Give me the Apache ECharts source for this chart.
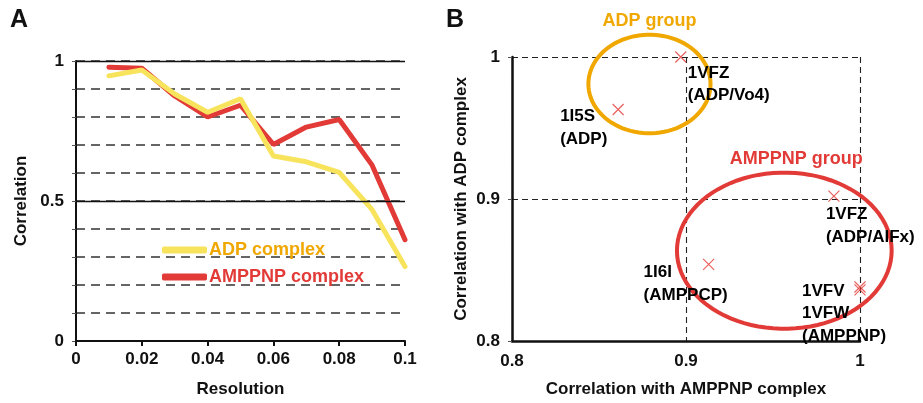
<!DOCTYPE html>
<html>
<head>
<meta charset="utf-8">
<script src="https://cdn.jsdelivr.net/npm/echarts@6/dist/echarts.min.js"></script>
<style>
html,body{margin:0;padding:0;background:#fff;}
#c{width:923px;height:403px;}
</style>
</head>
<body>
<div id="c"></div>
<script>
// ---- Panel A data ----
const resolution = [0.01, 0.02, 0.03, 0.04, 0.05, 0.06, 0.07, 0.08, 0.09, 0.1];
const adpComplex = [0.947, 0.968, 0.882, 0.817, 0.865, 0.661, 0.640, 0.602, 0.469, 0.266];
const amppnpComplex = [0.978, 0.974, 0.875, 0.800, 0.842, 0.702, 0.764, 0.791, 0.628, 0.362];
const seriesNames = ['ADP complex', 'AMPPNP complex'];

// ---- Panel B data ----
const structLabels = ['1VFZ\n(ADP/Vo4)', '1I5S\n(ADP)', '1VFZ\n(ADP/AlFx)', '1I6I\n(AMPPCP)', '1VFV\n1VFW\n(AMPPNP)', ''];
const corrWithAmppnp = [0.897, 0.861, 0.985, 0.913, 1.0, 1.0];
const corrWithAdp = [1.0, 0.963, 0.902, 0.854, 0.838, 0.836];

const groupNames = ['ADP group', 'AMPPNP group'];
const groupCenterX = [0.879, 0.9565];
const groupCenterY = [0.981, 0.8636];
const groupRadiusX = [0.0351, 0.0617];
const groupRadiusY = [0.0347, 0.0550];

const YELLOW = '#f8e35c';
const RED = '#e23b37';
const ORANGE = '#f0a800';
const FONT = '"Liberation Sans", Arial, Helvetica, sans-serif';

const fmt = v => parseFloat(v.toFixed(2)).toString();

const labelOffsets = [[15, 13], [-50, 4], [0, 15], [-57, 5], [-50, 1], [0, 0]];

const chart = echarts.init(document.getElementById('c'), null, {renderer: 'canvas'});

const option = {
  animation: false,
  backgroundColor: '#fff',
  textStyle: {fontFamily: FONT},
  grid: [
    {left: 76, right: 518, top: 61, bottom: 60},
    {left: 512, right: 63, top: 57, bottom: 58}
  ],
  xAxis: [
    {
      gridIndex: 0, type: 'value', min: 0, max: 0.1, interval: 0.02,
      axisLine: {show: true, onZero: false, lineStyle: {color: '#111', width: 2}},
      axisTick: {show: true, length: 5, lineStyle: {color: '#111', width: 2}},
      axisLabel: {formatter: fmt, color: '#111', fontSize: 17, fontWeight: 'bold', fontFamily: FONT, margin: 10},
      splitLine: {show: false},
      name: 'Resolution', nameLocation: 'middle', nameGap: 40,
      nameTextStyle: {color: '#111', fontSize: 17, fontWeight: 'bold', fontFamily: FONT}
    },
    {
      gridIndex: 1, type: 'value', min: 0.8, max: 1.0, interval: 0.1,
      axisLine: {show: true, onZero: false, lineStyle: {color: '#111', width: 2.5}},
      axisTick: {show: false},
      axisLabel: {formatter: fmt, color: '#111', fontSize: 17, fontWeight: 'bold', fontFamily: FONT, margin: 12},
      splitLine: {show: true, lineStyle: {color: '#222', type: [6, 4], width: 1.1}},
      name: 'Correlation with AMPPNP complex', nameLocation: 'middle', nameGap: 40,
      nameTextStyle: {color: '#111', fontSize: 17, fontWeight: 'bold', fontFamily: FONT}
    }
  ],
  yAxis: [
    {
      gridIndex: 0, type: 'value', min: 0, max: 1, interval: 0.1,
      axisLine: {show: true, onZero: false, lineStyle: {color: '#111', width: 2}},
      axisTick: {show: true, length: 4, lineStyle: {color: '#555', width: 1}},
      axisLabel: {
        formatter: v => (Math.abs(v) < 1e-9 || Math.abs(v - 0.5) < 1e-9 || Math.abs(v - 1) < 1e-9) ? fmt(v) : '',
        color: '#111', fontSize: 17, fontWeight: 'bold', fontFamily: FONT, margin: 12
      },
      splitLine: {show: true, lineStyle: {color: '#333', type: [9, 6], width: 1.5}},
      name: 'Correlation', nameLocation: 'middle', nameGap: 46,
      nameTextStyle: {color: '#111', fontSize: 17, fontWeight: 'bold', fontFamily: FONT}
    },
    {
      gridIndex: 1, type: 'value', min: 0.8, max: 1.0, interval: 0.1,
      axisLine: {show: true, onZero: false, lineStyle: {color: '#111', width: 2.5}},
      axisTick: {show: true, length: 4, lineStyle: {color: '#555', width: 1}},
      axisLabel: {formatter: fmt, color: '#111', fontSize: 17, fontWeight: 'bold', fontFamily: FONT, margin: 12},
      splitLine: {show: true, lineStyle: {color: '#222', type: [6, 4], width: 1.1}},
      name: 'Correlation with ADP complex', nameLocation: 'middle', nameGap: 42,
      nameTextStyle: {color: '#111', fontSize: 17, fontWeight: 'bold', fontFamily: FONT}
    }
  ],
  legend: {
    orient: 'vertical', left: 157, top: 236, itemGap: 9,
    itemWidth: 45, itemHeight: 7, icon: 'roundRect',
    data: [
      {name: seriesNames[0], textStyle: {color: ORANGE}},
      {name: seriesNames[1], textStyle: {color: RED}}
    ],
    textStyle: {fontSize: 18, fontWeight: 'bold', fontFamily: FONT, padding: [0, 0, 0, -3]}
  },
  graphic: [
    {type: 'text', left: 10, top: 8, style: {text: 'A', font: 'bold 25px ' + FONT, fill: '#111'}},
    {type: 'text', left: 446, top: 8, style: {text: 'B', font: 'bold 25px ' + FONT, fill: '#111'}}
  ],
  series: [
    {
      name: seriesNames[0], type: 'line', xAxisIndex: 0, yAxisIndex: 0,
      data: resolution.map((x, i) => [x, adpComplex[i]]),
      symbol: 'none', z: 4,
      lineStyle: {color: YELLOW, width: 5, cap: 'round'}, itemStyle: {color: YELLOW},
      markLine: {
        silent: true, symbol: 'none', label: {show: false},
        lineStyle: {color: '#111', type: 'solid', width: 1.3},
        data: [{yAxis: 0.5}, {yAxis: 1}]
      }
    },
    {
      name: seriesNames[1], type: 'line', xAxisIndex: 0, yAxisIndex: 0,
      data: resolution.map((x, i) => [x, amppnpComplex[i]]),
      symbol: 'none', z: 3,
      lineStyle: {color: RED, width: 5, cap: 'round'}, itemStyle: {color: RED}
    },
    {
      type: 'custom', xAxisIndex: 1, yAxisIndex: 1, clip: false, silent: true, z: 2,
      data: groupNames.map((n, i) => [groupCenterX[i], groupCenterY[i], groupRadiusX[i], groupRadiusY[i], i]),
      renderItem: function (params, api) {
        const c = api.coord([api.value(0), api.value(1)]);
        const s = api.size([api.value(2), api.value(3)]);
        const idx = api.value(4);
        const pts = [];
        for (let k = 0; k < 90; k++) {
          const t = k / 90 * Math.PI * 2;
          pts.push([c[0] + s[0] * Math.cos(t), c[1] + s[1] * Math.sin(t)]);
        }
        const col = idx === 0 ? ORANGE : RED;
        return {
          type: 'group',
          children: [
            {type: 'polygon', shape: {points: pts}, style: {fill: 'none', stroke: col, lineWidth: 4}},
            {type: 'text', x: c[0] + (idx === 0 ? 0 : 12), y: c[1] - s[1] - 14,
             style: {text: groupNames[idx], fill: col, font: 'bold 18px ' + FONT, textAlign: 'center', textVerticalAlign: 'middle'}}
          ]
        };
      }
    },
    {
      type: 'scatter', xAxisIndex: 1, yAxisIndex: 1, z: 5,
      data: corrWithAmppnp.map((x, i) => ({
        value: [x, corrWithAdp[i]],
        label: {show: structLabels[i] !== '', formatter: structLabels[i], position: labelOffsets[i]}
      })),
      symbol: 'path://M0,0L10,10M10,0L0,10', symbolSize: 11,
      itemStyle: {color: 'none', borderColor: RED, borderWidth: 1.2},
      label: {
        color: '#000', opacity: 1, textBorderWidth: 0, fontSize: 17, fontWeight: 'bold', fontFamily: FONT,
        lineHeight: 22.5, align: 'left', verticalAlign: 'top'
      }
    }
  ]
};
chart.setOption(option);
</script>
</body>
</html>
